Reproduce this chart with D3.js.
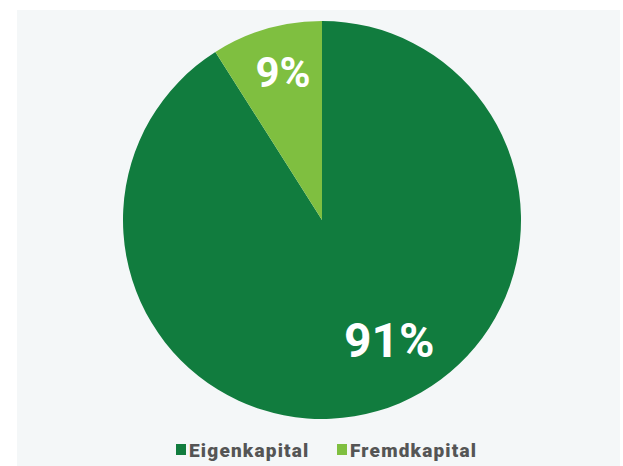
<!DOCTYPE html>
<html>
<head>
<meta charset="utf-8">
<script src="https://cdn.jsdelivr.net/npm/d3@7"></script>
<style>
  body { margin: 0; background: #ffffff; }
  svg { display: block; }
  .pctLabel { font-family: Roboto, "Noto Sans", sans-serif; font-weight: 700; fill: #ffffff; text-anchor: middle; }
  .legendLabel { font-family: Roboto, "Noto Sans", sans-serif; font-weight: 900; fill: #555555; letter-spacing: 1.2px; }
</style>
</head>
<body>
<svg id="svg-pie" width="623" height="466"></svg>
<script>
// Data
var categories = ["Eigenkapital", "Fremdkapital"];
var shares = [91, 9];
var labels = ["91%", "9%"];
var colors = ["#117c3e", "#7fbf40"];

function init() {
  var svg = d3.select("#svg-pie");
  var w = 623, h = 466;

  // light panel behind the chart
  svg.append("rect")
     .attr("x", 17).attr("y", 10)
     .attr("width", w - 20).attr("height", h - 10)
     .attr("fill", "#f4f7f8");

  var cx = 322, cy = 220, r = 199;

  var data = categories.map(function(c, i) { return {name: c, value: shares[i], label: labels[i], color: colors[i]}; });

  var pie = d3.pie().sort(null).value(function(d) { return d.value; });
  var arc = d3.arc().innerRadius(0).outerRadius(r);
  var arcs = pie(data);

  var g = svg.append("g").attr("transform", "translate(" + cx + "," + cy + ")");

  g.selectAll("path.slice")
   .data(arcs)
   .enter()
   .append("path")
   .attr("class", "slice")
   .attr("d", arc)
   .attr("fill", function(d) { return d.data.color; });

  // label position: small slice near its middle, large slice lower right
  function labelPos(d) {
    var span = d.endAngle - d.startAngle;
    var a, rr;
    if (span < Math.PI) { a = d.startAngle + span * 0.5 + 0.025; rr = r * 0.77; }
    else { a = d.startAngle + span * 0.46; rr = r * 0.69; }
    return [Math.sin(a) * rr, -Math.cos(a) * rr];
  }

  g.selectAll("text.pctLabel")
   .data(arcs)
   .enter()
   .append("text")
   .attr("class", "pctLabel")
   .attr("x", function(d) { return labelPos(d)[0]; })
   .attr("y", function(d) { return labelPos(d)[1]; })
   .attr("dy", "0.36em")
   .style("font-size", function(d) { return (d.endAngle - d.startAngle < Math.PI ? 42 : 48) + "px"; })
   .text(function(d) { return d.data.label; });

  // Legend
  var legendX = d3.scaleOrdinal().domain(categories).range([176, 337]);
  var legend = svg.selectAll("g.legendItem")
                  .data(data)
                  .enter()
                  .append("g")
                  .attr("class", "legendItem")
                  .attr("transform", function(d) { return "translate(" + legendX(d.name) + ",444)"; });
  legend.append("rect")
        .attr("width", 10).attr("height", 11)
        .attr("fill", function(d) { return d.color; });
  legend.append("text")
        .attr("class", "legendLabel")
        .attr("x", 13).attr("y", 12.7)
        .style("font-size", "19px")
        .text(function(d) { return d.name; });
}

init();
</script>
</body>
</html>
